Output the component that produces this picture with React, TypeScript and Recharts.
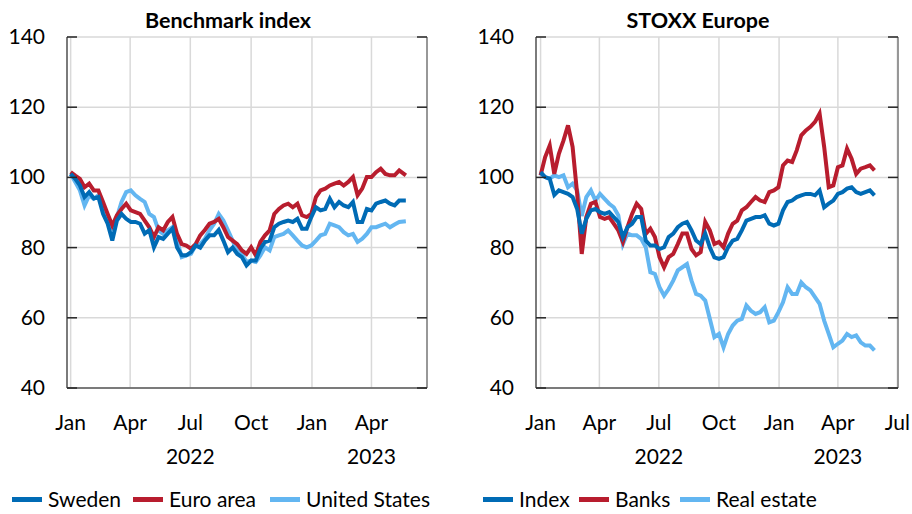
import { LineChart, Line, XAxis, YAxis, CartesianGrid, ReferenceLine } from "recharts"

// days since 1 Jan 2022
const leftDays = [
  0, 7, 14, 21, 28, 35, 42, 49, 56, 63, 70, 77, 84, 91, 98, 105, 112, 119, 126, 133, 140, 147, 154, 161,
  168, 175, 182, 189, 196, 203, 210, 217, 224, 231, 238, 245, 252, 259, 266, 273, 280, 287, 294, 301,
  308, 315, 322, 329, 336, 343, 350, 357, 364, 371, 378, 385, 392, 399, 406, 413, 420, 427, 434, 441,
  448, 455, 462, 469, 476, 483, 490, 497, 507,
]

const sweden = [
  101, 99.6, 97.7, 94.4, 95.8, 94, 94.4, 89.6, 86.8, 82, 87.7, 89.6, 88.2, 87.3, 87.3, 86.8, 84, 85, 80.1,
  83, 82.5, 84, 85.4, 80, 77.8, 77.8, 78.7, 80.6, 80, 82, 83.5, 83.5, 85, 82, 78.7, 80, 78.2, 77.3, 74.9,
  76.3, 76.3, 79.7, 81.6, 82, 85.8, 86.8, 87.3, 87.7, 87.3, 88.2, 85.4, 85.4, 88.7, 91.5, 90.6, 91, 93.9,
  91.5, 93, 92, 91.5, 93, 87.3, 87.3, 91, 90.6, 92.5, 93, 93.4, 92.5, 92, 93.4, 93.4,
]

const euroArea = [
  101.5, 100.5, 99.6, 97.2, 98.2, 96.3, 96.3, 93, 89.6, 86.3, 89.2, 91, 92.5, 90.6, 90.1, 89.6, 87.7, 85.8,
  83, 85.8, 84.9, 87.3, 88.7, 83.9, 81, 80.6, 79.7, 81, 83.5, 85, 86.8, 87.3, 88.2, 85.8, 83, 82, 81, 79.2,
  78.2, 80.1, 77.8, 81.6, 83.5, 84.9, 89.6, 91, 92, 92.5, 91.5, 92.5, 89.2, 88.7, 89.6, 94.4, 96.3, 96.8,
  97.7, 98.2, 98.7, 97.7, 98.7, 100.1, 94.9, 96.8, 100.1, 100.1, 101.5, 102.5, 101, 100.6, 100.6, 102, 100.6,
]

const unitedStates = [
  101, 98.7, 96.3, 92, 94.9, 93.9, 94.9, 91, 89.2, 85.8, 88.7, 93, 95.8, 96.3, 94.9, 93.9, 93, 89.6, 88.7,
  84.9, 83.9, 84.9, 85.8, 82, 77.3, 77.8, 78.2, 80.6, 81, 82.5, 84.9, 86.8, 89.6, 87.7, 84.9, 82, 79.2,
  78.2, 75.9, 76.3, 75.9, 77.8, 80.1, 79.2, 83, 83.5, 83.9, 84.9, 83.5, 82, 80.6, 80.1, 80.6, 82, 83.5,
  83.9, 86.8, 86.3, 85.8, 84.4, 83.5, 83.9, 81.6, 82.5, 83.9, 85.8, 85.8, 86.3, 86.8, 85.8, 86.6, 87.3, 87.5,
]

const rightDays = [
  0, 7, 14, 21, 28, 35, 42, 49, 56, 63, 70, 77, 84, 91, 98, 105, 112, 119, 126, 133, 140, 147, 154, 161,
  168, 175, 182, 189, 196, 203, 210, 217, 224, 231, 238, 245, 252, 259, 266, 273, 280, 287, 294, 301,
  308, 315, 322, 329, 336, 343, 350, 357, 364, 371, 378, 385, 392, 399, 406, 413, 420, 427, 434, 441,
  448, 455, 462, 469, 476, 483, 490, 497, 504, 511,
]

const stoxxIndex = [
  101.5, 100.1, 99.6, 95, 96.3, 95.8, 95.3, 94.4, 91, 84, 88.2, 90.6, 91, 90.1, 89.6, 90.1, 88.7, 87.3,
  83, 85.8, 86.8, 88.7, 88.7, 82, 80.6, 80.6, 79.6, 80.1, 83, 84, 85.8, 86.8, 87.3, 84.9, 82, 81, 84, 80.1,
  77.2, 76.8, 77.3, 80.1, 82, 82.5, 84.9, 87.7, 88.2, 88.7, 88.7, 89.2, 86.8, 86.3, 86.8, 90.6, 93, 93.4,
  94.4, 94.9, 95.3, 95.3, 94.9, 96.3, 91.5, 92.5, 93.4, 95.3, 95.8, 96.8, 97.2, 95.8, 95.3, 95.8, 96.3, 94.9,
]

const banks = [
  100.6, 105.8, 109.1, 101, 106.7, 110.5, 114.8, 108.7, 95.3, 78.2, 88.7, 92.5, 93, 88.7, 88.2, 88.7, 86.8,
  84.9, 81.6, 85.8, 89.6, 92.5, 91, 83.9, 85.4, 83, 77.3, 74.4, 77.3, 78.2, 81, 84, 84, 79.6, 77.8, 78.7,
  87.3, 84.9, 81, 81.6, 80.1, 84, 86.8, 87.7, 90.6, 91.5, 93, 94.4, 93.4, 93, 95.8, 96.3, 97.2, 103.4,
  104.8, 104.4, 107.7, 112, 113.4, 114.4, 115.8, 118.2, 108.7, 97.2, 97.7, 102.9, 103.4, 108.2, 105.3, 101,
  102.5, 102.9, 103.4, 102,
]

const realEstate = [
  101, 100.1, 99.6, 100.6, 100.1, 100.6, 97.2, 98.2, 96.3, 89, 94.4, 96.3, 93.4, 95.3, 93.9, 92.5, 91.5,
  89.2, 81, 84, 83.5, 83.5, 82.5, 80.1, 73, 72.5, 68.7, 66.3, 68.2, 70.6, 73.5, 74.4, 75.3, 70.6, 66.8,
  66.3, 64.9, 59.7, 54.5, 55.4, 51.6, 55.4, 57.8, 59.2, 59.7, 63.5, 62, 61.1, 61.6, 63, 58.7, 59.2, 61.6,
  64.4, 68.7, 66.8, 66.8, 70.1, 68.7, 67.8, 65.9, 64, 59.2, 55.4, 51.6, 52.6, 53.5, 55.4, 54.5, 55, 53,
  52.1, 52.1, 50.7,
]

const yTicks = [40, 60, 80, 100, 120, 140]
const leftMonthTicks = [0, 90, 181, 273, 365, 455]
const rightMonthTicks = [0, 90, 181, 273, 365, 455, 546]
const monthLabels = ["Jan", "Apr", "Jul", "Oct", "Jan", "Apr", "Jul"]
const yearTicks = [181, 455]
const yearLabels = ["2022", "2023"]

const FONT = "Lato, 'Liberation Sans', sans-serif"
const FS = 21
const DARK_BLUE = "#006bb5"
const RED = "#b81d2e"
const LIGHT_BLUE = "#63b6f1"

type Series = { name: string; values: number[]; color: string; legendX: number }

type PanelProps = {
  title: string
  titleCenter: number
  days: number[]
  series: Series[]
  ticks: number[]
  domain: [number, number]
  yAxisWidth: number
  marginRight: number
  left: number
}

const W = 456
const H = 514

function Panel({ title, titleCenter, days, series, ticks, domain, yAxisWidth, marginRight, left }: PanelProps) {
  const rows = days.map((d, i) => {
    const row: Record<string, number> = { day: d }
    series.forEach((s) => (row[s.name] = s.values[i]))
    return row
  })
  const plotW = W - yAxisWidth - marginRight

  const yTick = (props: any) => {
    const { x, y, payload } = props
    const ax = x + 22
    return (
      <g>
        <line x1={ax} x2={ax + 10} y1={y} y2={y} stroke="#262626" strokeWidth={1.5} />
        <line x1={ax + plotW - 10} x2={ax + plotW} y1={y} y2={y} stroke="#262626" strokeWidth={1.5} />
        <text x={x} y={y} dy={7} textAnchor="end" fontSize={FS} fontFamily={FONT} fill="#000">
          {payload.value}
        </text>
      </g>
    )
  }

  const xTick = (props: any) => {
    const { x, y, payload } = props
    const idx = ticks.indexOf(payload.value)
    const yi = yearTicks.indexOf(payload.value)
    return (
      <g>
        <text x={x} y={y + 42} textAnchor="middle" fontSize={FS} fontFamily={FONT} fill="#000">
          {monthLabels[idx]}
        </text>
        {yi >= 0 && (
          <text x={x} y={y + 76} textAnchor="middle" fontSize={FS} fontFamily={FONT} fill="#000">
            {yearLabels[yi]}
          </text>
        )}
      </g>
    )
  }

  return (
    <div style={{ position: "absolute", left, top: 0, width: W, height: H }}>
      <div
        style={{
          position: "absolute",
          left: titleCenter - 150,
          width: 300,
          top: 8,
          textAlign: "center",
          fontFamily: FONT,
          fontWeight: 700,
          fontSize: 21.5,
          lineHeight: "24px",
        }}
      >
        {title}
      </div>
      <LineChart width={W} height={H} data={rows} margin={{ top: 37, right: marginRight, bottom: 0, left: 0 }}>
        <CartesianGrid stroke="#d9d9d9" strokeWidth={1.5} />
        <XAxis
          dataKey="day"
          type="number"
          domain={domain}
          ticks={ticks}
          allowDataOverflow
          height={126}
          tickSize={0}
          tickMargin={0}
          interval={0}
          tick={xTick}
          axisLine={{ stroke: "#595959", strokeWidth: 1.5 }}
        />
        <YAxis
          type="number"
          domain={[40, 140]}
          ticks={yTicks}
          width={yAxisWidth}
          tickSize={0}
          tickMargin={22}
          interval={0}
          tick={yTick}
          axisLine={{ stroke: "#595959", strokeWidth: 1.5 }}
        />
        <ReferenceLine x={domain[1]} stroke="#7f7f7f" strokeWidth={1.5} />
        {[...series].reverse().map((s) => (
          <Line
            key={s.name}
            dataKey={s.name}
            stroke={s.color}
            strokeWidth={4}
            dot={false}
            type="linear"
            isAnimationActive={false}
          />
        ))}
      </LineChart>
      {series.map((s) => (
        <div
          key={s.name}
          style={{
            position: "absolute",
            left: s.legendX,
            top: 486,
            display: "flex",
            alignItems: "center",
            fontFamily: FONT,
            fontSize: FS,
            lineHeight: "26px",
            whiteSpace: "nowrap",
          }}
        >
          <span style={{ display: "inline-block", width: 30, height: 5, background: s.color, marginRight: 6 }} />
          {s.name}
        </div>
      ))}
    </div>
  )
}

export default function App() {
  return (
    <div style={{ position: "absolute", left: 0, top: 0, width: 912, height: 514, background: "#fff" }}>
      <Panel
        title="Benchmark index"
        titleCenter={228}
        days={leftDays}
        series={[
          { name: "Sweden", values: sweden, color: DARK_BLUE, legendX: 12 },
          { name: "Euro area", values: euroArea, color: RED, legendX: 133 },
          { name: "United States", values: unitedStates, color: LIGHT_BLUE, legendX: 270 },
        ]}
        ticks={leftMonthTicks}
        domain={[-5.5, 539]}
        yAxisWidth={67}
        marginRight={29}
        left={0}
      />
      <Panel
        title="STOXX Europe"
        titleCenter={242}
        days={rightDays}
        series={[
          { name: "Index", values: stoxxIndex, color: DARK_BLUE, legendX: 27 },
          { name: "Banks", values: banks, color: RED, legendX: 123 },
          { name: "Real estate", values: realEstate, color: LIGHT_BLUE, legendX: 224 },
        ]}
        ticks={rightMonthTicks}
        domain={[-7, 547]}
        yAxisWidth={80}
        marginRight={14}
        left={456}
      />
    </div>
  )
}
